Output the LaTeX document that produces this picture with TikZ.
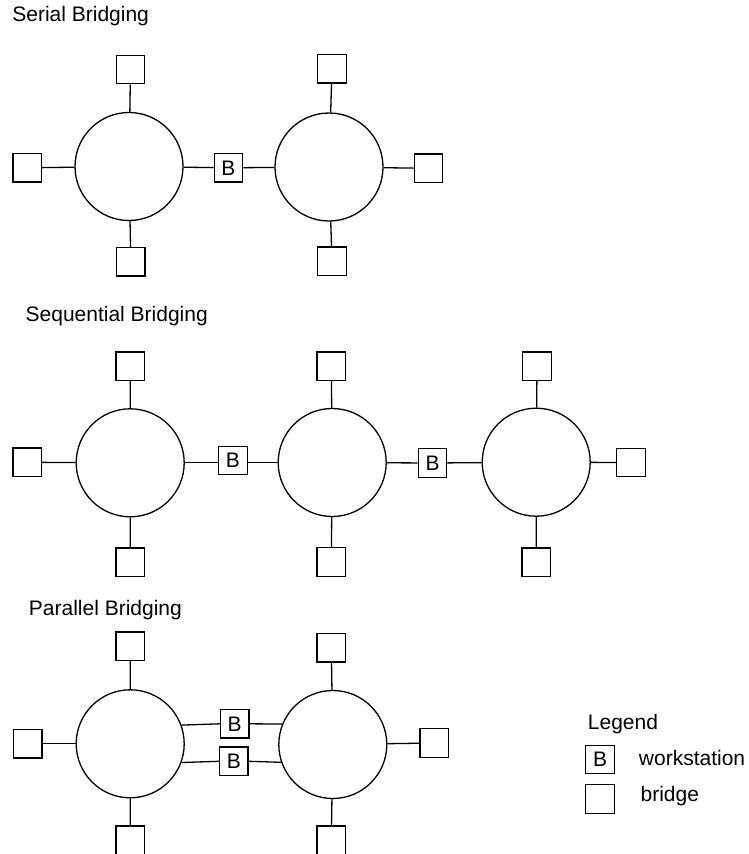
\documentclass[tikz,border=0pt]{standalone}
\usepackage{fontspec}
\setmainfont{Liberation Sans}
\begin{document}
\begin{tikzpicture}[x=1pt,y=-1pt,line width=1.3pt,
  every node/.style={font=\fontsize{21}{25}\selectfont},
  ring/.style={draw,circle,minimum size=108pt,inner sep=0pt},
  brg/.style={draw,rectangle,minimum size=28.5pt,inner sep=0pt},
  ws/.style={draw,rectangle,minimum size=28.5pt,inner sep=0pt},
  lbl/.style={anchor=base west,inner sep=0pt}]
\useasboundingbox (0,0) rectangle (749,854);
% ---------- Serial ----------
\node[lbl] (t1) at (11.7,21.7) {Serial Bridging};
\node[ring] (S1) at (129,166.5) {};
\node[ring] (S2) at (329,167) {};
\node[brg] (S1t) at (130.5,69.5) {};
\node[brg] (S1l) at (27.2,167.8) {};
\node[brg] (S1b) at (130.8,261.7) {};
\node[ws] (SB) at (228.5,167.8) {B};
\node[brg] (S2t) at (332,68.8) {};
\node[brg] (S2r) at (428.5,168.3) {};
\node[brg] (S2b) at (332,261.3) {};
\draw (S1t) -- (S1);
\draw (S1l) -- (S1);
\draw (S1b) -- (S1);
\draw (S1) -- (SB);
\draw (SB) -- (S2);
\draw (S2t) -- (S2);
\draw (S2r) -- (S2);
\draw (S2b) -- (S2);
% ---------- Sequential ----------
\node[lbl] (t2) at (25,321.7) {Sequential Bridging};
\node[ring] (A) at (130.2,462.8) {};
\node[ring] (B) at (332.2,462.5) {};
\node[ring] (C) at (536.2,462.2) {};
\node[brg] (At) at (130.3,366.2) {};
\node[brg] (Al) at (27.3,462.3) {};
\node[brg] (Ab) at (130.3,562.2) {};
\node[brg] (Bt) at (331.3,366.2) {};
\node[brg] (Bb) at (331.3,562) {};
\node[brg] (Ct) at (537,366.2) {};
\node[brg] (Cr) at (631,462.5) {};
\node[brg] (Cb) at (536.3,562.2) {};
\node[ws] (QB1) at (233,460.5) {B};
\node[ws] (QB2) at (432.5,463) {B};
\draw (At) -- (A);
\draw (Al) -- (A);
\draw (Ab) -- (A);
\draw (A.east) -- (A.east -| QB1.west);
\draw (B.west -| QB1.east) -- (B.west);
\draw (B) -- (QB2);
\draw (QB2) -- (C);
\draw (Bt) -- (B);
\draw (Bb) -- (B);
\draw (Ct) -- (C);
\draw (Cr) -- (C);
\draw (Cb) -- (C);
% ---------- Parallel ----------
\node[lbl] (t3) at (28.3,615) {Parallel Bridging};
\node[ring] (P1) at (130.2,743.8) {};
\node[ring] (P2) at (332.8,744.5) {};
\node[brg] (P1t) at (130.3,646.3) {};
\node[brg] (P1l) at (27.8,743.8) {};
\node[brg] (P1b) at (130.3,840.2) {};
\node[brg] (P2t) at (331.3,647.8) {};
\node[brg] (P2r) at (434.2,743) {};
\node[brg] (P2b) at (331.3,840.2) {};
\node[ws] (PBu) at (234.7,723.8) {B};
\node[ws] (PBl) at (233.8,761.3) {B};
\draw (P1t) -- (P1);
\draw (P1l) -- (P1);
\draw (P1b) -- (P1);
\draw (P2t) -- (P2);
\draw (P2r) -- (P2);
\draw (P2b) -- (P2);
\draw (P1.20.4) -- (PBu.west);
\draw (PBu.east) -- (P2.158.8);
\draw (P1.-20) -- (PBl.west);
\draw (PBl.east) -- (P2.199.2);
% ---------- Legend ----------
\node[lbl] (lg) at (587.3,729.3) {Legend};
\node[ws] (LB) at (600,759.5) {B};
\node[lbl] (lws) at (638.3,765) {workstation};
\node[brg] (LE) at (600,799) {};
\node[lbl] (lbr) at (640,801.7) {bridge};
\end{tikzpicture}
\end{document}
